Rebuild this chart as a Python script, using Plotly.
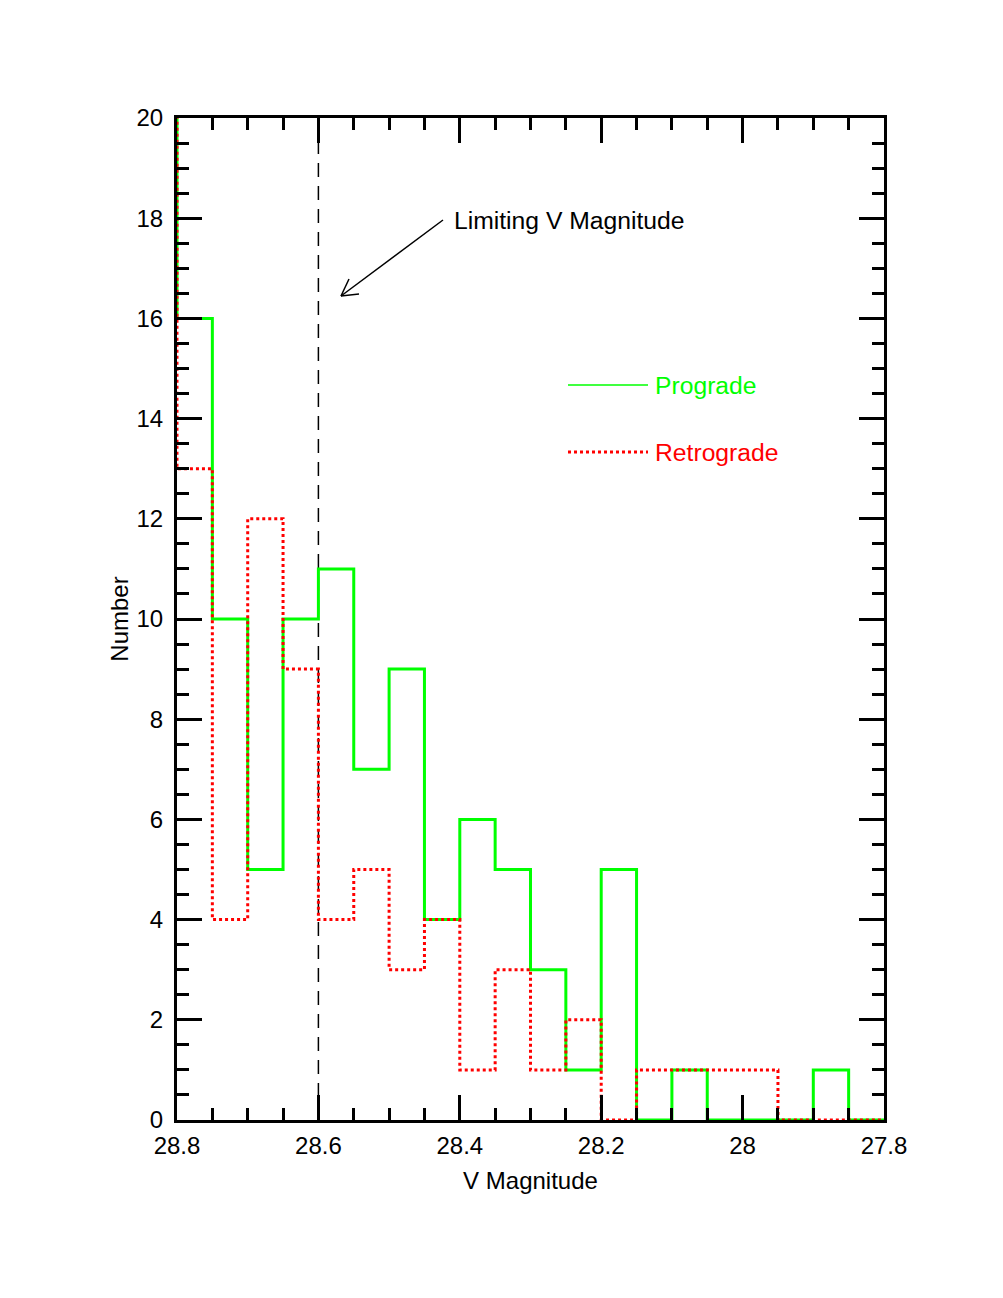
import plotly.graph_objects as go

# bin edges (V magnitude), bright side on the right
bin_edges = [28.85, 28.80, 28.75, 28.70, 28.65, 28.60, 28.55, 28.50, 28.45, 28.40,
             28.35, 28.30, 28.25, 28.20, 28.15, 28.10, 28.05, 28.00, 27.95, 27.90,
             27.85, 27.80]

# counts per bin; first bin (28.85-28.80) lies off the plotted range and is off-scale
prograde = [30, 16, 10, 5, 10, 11, 7, 9, 4, 6, 5, 3, 1, 5, 0, 1, 0, 0, 0, 1, 0]
retrograde = [30, 13, 4, 12, 9, 4, 5, 3, 4, 1, 3, 1, 2, 0, 1, 1, 1, 1, 0, 0, 0]

limit_mag = 28.6

FONT = "Liberation Sans, Arial, Helvetica, sans-serif"
FS = 24
W, H = 1003, 1298
# plot-area edges as seen in the reference picture
L, R, T, B = 177, 884, 118, 1120
PAGE_OFFSET = 8  # body margin of the html page


def px_x(p):
    return (p - L) / (R - L)


def px_y(p):
    return (B - p) / (B - T)


def steps(counts):
    # step-plot points: left edge of each bin, then the last right edge
    return bin_edges, counts + [counts[-1]]


fig = go.Figure()

x, y = steps(prograde)
fig.add_trace(go.Scatter(x=x, y=y, mode="lines", line_shape="hv",
                         line=dict(color="#00ff00", width=3), showlegend=False))
x, y = steps(retrograde)
fig.add_trace(go.Scatter(x=x, y=y, mode="lines", line_shape="hv",
                         line=dict(color="#ff0000", width=3, dash="dot"), showlegend=False))

# limiting magnitude line
fig.add_shape(type="line", x0=limit_mag, x1=limit_mag, y0=0, y1=20, xref="x", yref="y",
              line=dict(color="black", width=1.5, dash="14px,9px"), layer="below")

# arrow + label
arrow = dict(xref="paper", yref="paper", line=dict(color="black", width=1.5))
fig.add_shape(type="line", x0=px_x(443), y0=px_y(220), x1=px_x(341), y1=px_y(296), **arrow)
fig.add_shape(type="line", x0=px_x(341), y0=px_y(296), x1=px_x(349), y1=px_y(279), **arrow)
fig.add_shape(type="line", x0=px_x(341), y0=px_y(296), x1=px_x(359), y1=px_y(294), **arrow)
fig.add_annotation(x=px_x(452), y=px_y(220), xref="paper", yref="paper", text="Limiting V Magnitude",
                   showarrow=False, xanchor="left", yanchor="middle",
                   font=dict(family=FONT, size=24.7, color="black"))

# hand-drawn legend
fig.add_shape(type="line", x0=px_x(568), x1=px_x(648), y0=px_y(385), y1=px_y(385),
              xref="paper", yref="paper", line=dict(color="#00ff00", width=1.5))
fig.add_shape(type="line", x0=px_x(568), x1=px_x(648), y0=px_y(452), y1=px_y(452),
              xref="paper", yref="paper", line=dict(color="#ff0000", width=3, dash="dot"))
fig.add_annotation(x=px_x(653), y=px_y(386), xref="paper", yref="paper", text="Prograde",
                   showarrow=False, xanchor="left", yanchor="middle",
                   font=dict(family=FONT, size=24.7, color="#00ff00"))
fig.add_annotation(x=px_x(653), y=px_y(453), xref="paper", yref="paper", text="Retrograde",
                   showarrow=False, xanchor="left", yanchor="middle",
                   font=dict(family=FONT, size=24.7, color="#ff0000"))

axis_common = dict(
    showgrid=False, zeroline=False, showline=True, linecolor="black", linewidth=3,
    mirror="ticks", ticks="inside", ticklen=25, tickwidth=3, tickcolor="black",
    tickfont=dict(family=FONT, size=FS, color="black"),
)

fig.update_xaxes(range=[28.8, 27.8], tick0=28.8, dtick=0.2, ticklabelstandoff=2,
                 minor=dict(dtick=0.05, ticks="inside", ticklen=12, tickwidth=3, tickcolor="black"),
                 title=dict(text="V Magnitude", font=dict(family=FONT, size=FS, color="black"), standoff=15),
                 **axis_common)
fig.update_yaxes(range=[0, 20], tick0=0, dtick=2, ticklabelstandoff=6,
                 minor=dict(dtick=0.5, ticks="inside", ticklen=12, tickwidth=3, tickcolor="black"),
                 title=dict(text="Number", font=dict(family=FONT, size=FS, color="black"), standoff=2),
                 **axis_common)

fig.update_layout(
    width=W, height=H,
    margin=dict(l=L - PAGE_OFFSET, r=W - R + PAGE_OFFSET, t=T - PAGE_OFFSET, b=H - B + PAGE_OFFSET),
    plot_bgcolor="white", paper_bgcolor="white",
    showlegend=False,
)

fig.write_html("out.html")
